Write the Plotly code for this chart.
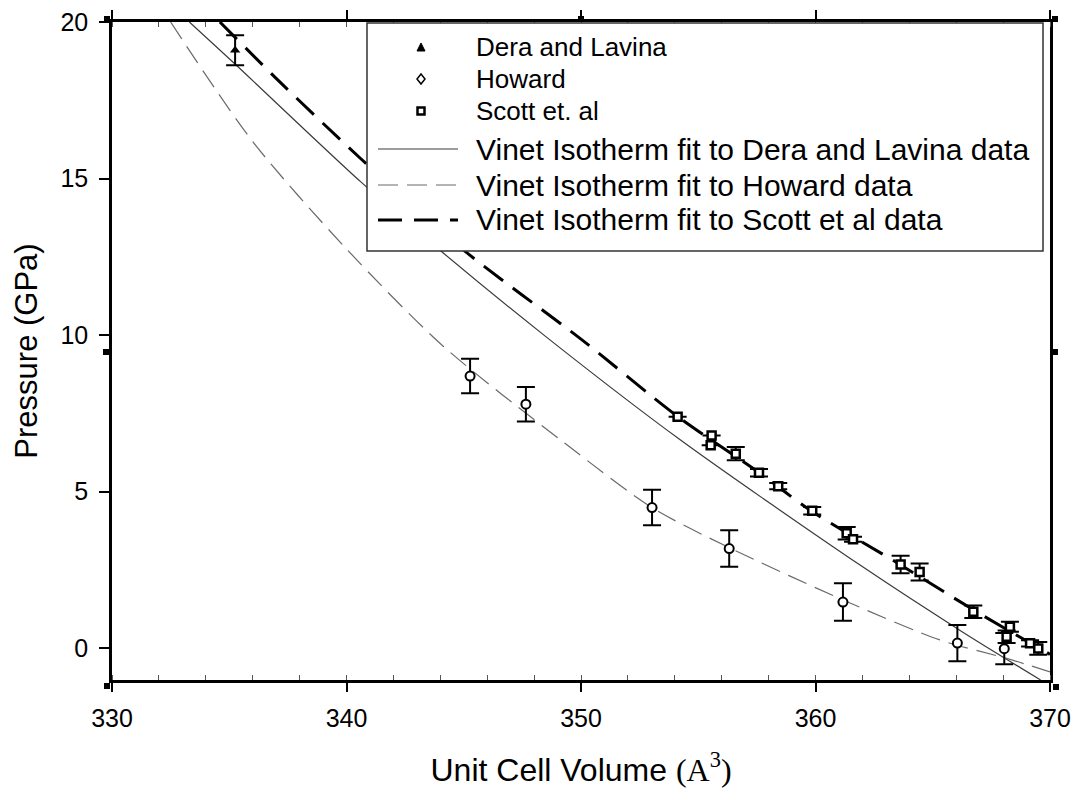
import plotly.graph_objects as go

# ---- measured data -------------------------------------------------------
dera_v = [335.25]
dera_p = [19.10]
dera_err = [0.48]

howard_v = [345.27, 347.65, 353.03, 356.32, 361.17, 366.05, 368.05]
howard_p = [8.69, 7.79, 4.49, 3.18, 1.47, 0.16, -0.02]
howard_err = [0.55, 0.55, 0.57, 0.58, 0.60, 0.58, 0.50]

scott_v = [354.12, 355.57, 355.53, 356.60, 357.59, 358.41, 359.86, 361.33,
           361.60, 363.63, 364.44, 366.73, 368.29, 368.15, 369.15, 369.50]
scott_p = [7.39, 6.79, 6.48, 6.21, 5.60, 5.17, 4.39, 3.67,
           3.48, 2.67, 2.43, 1.16, 0.68, 0.36, 0.15, -0.01]
scott_err = [0.0, 0.0, 0.0, 0.21, 0.12, 0.10, 0.12, 0.20,
             0.08, 0.28, 0.27, 0.20, 0.16, 0.20, 0.10, 0.20]

# Vinet isotherm fit curves
fit_dera_v = [333.3, 335.2, 340.6, 344.0, 348.5, 354.2, 361.9, 366.3, 369.6]
fit_dera_p = [20.0, 18.69, 14.90, 12.70, 9.95, 6.67, 2.65, 0.50, -1.02]

fit_howard_v = [332.5, 336.0, 340.0, 344.1, 349.3, 353.0, 356.2, 361.5, 365.3, 368.15, 370.0]
fit_howard_p = [20.0, 16.18, 12.75, 9.66, 6.55, 4.50, 3.25, 1.43, 0.26, -0.33, -0.76]

fit_scott_v = [334.6, 337.0, 340.6, 345.1, 350.0, 354.1, 357.6, 359.8, 363.6, 366.8, 370.0]
fit_scott_p = [20.0, 18.2, 15.64, 12.65, 9.87, 7.41, 5.60, 4.39, 2.67, 1.19, -0.20]

x_range = [330, 370]
y_range = [-1.02, 20]

legend_labels = ["Dera and Lavina", "Howard", "Scott et. al",
                 "Vinet Isotherm fit to Dera and Lavina data",
                 "Vinet Isotherm fit to Howard data",
                 "Vinet Isotherm fit to Scott et al data"]

FONT = "Liberation Sans, Arial, sans-serif"

# ---- styles ---------------------------------------------------------------
solid_style = dict(color="#3a3a3a", width=1.2)
howard_style = dict(color="#6a6a6a", width=1.2, dash="20px,9px")
scott_style = dict(color="black", width=3, dash="24px,12px")

fig = go.Figure()

fig.add_trace(go.Scatter(x=fit_dera_v, y=fit_dera_p, mode="lines",
                         line=dict(shape="spline", smoothing=0.8, **solid_style),
                         showlegend=False, hoverinfo="skip"))
fig.add_trace(go.Scatter(x=fit_howard_v, y=fit_howard_p, mode="lines",
                         line=dict(shape="spline", smoothing=0.8, **howard_style),
                         showlegend=False, hoverinfo="skip"))
fig.add_trace(go.Scatter(x=fit_scott_v, y=fit_scott_p, mode="lines",
                         line=dict(shape="spline", smoothing=0.8, **scott_style),
                         showlegend=False, hoverinfo="skip"))

err_common = dict(type="data", color="black", thickness=2, width=9)

fig.add_trace(go.Scatter(x=howard_v, y=howard_p, mode="markers",
                         marker=dict(symbol="circle", size=9, color="white",
                                     line=dict(color="black", width=2)),
                         error_y=dict(array=howard_err, **err_common),
                         showlegend=False))
fig.add_trace(go.Scatter(x=scott_v, y=scott_p, mode="markers",
                         marker=dict(symbol="square", size=8, color="white",
                                     line=dict(color="black", width=2.5)),
                         error_y=dict(array=scott_err, **err_common),
                         showlegend=False))
fig.add_trace(go.Scatter(x=dera_v, y=dera_p, mode="markers",
                         marker=dict(symbol="triangle-up", size=9, color="black"),
                         error_y=dict(array=dera_err, **err_common),
                         showlegend=False))

# ---- plot area geometry (pixels) -----------------------------------------
W, H = 1078, 791
L, R, T, B = 112, 1050, 22, 680
pw, ph = R - L, B - T


def px(xpix):
    return (xpix - L) / pw


def py(ypix):
    return (B - ypix) / ph


shapes = []
annotations = []

# legend box
shapes.append(dict(type="rect", xref="paper", yref="paper",
                   x0=px(367), x1=px(1043), y0=py(251), y1=py(23),
                   line=dict(color="#333333", width=1.5), fillcolor="white",
                   layer="above"))

rows = [47, 79, 111, 149, 185, 220]
sym_x = 421
for i, lab in enumerate(legend_labels):
    size = 26 if i < 3 else 30
    annotations.append(dict(xref="paper", yref="paper", x=px(474), y=py(rows[i]),
                            xanchor="left", yanchor="middle", showarrow=False,
                            text=lab, font=dict(family=FONT, size=size, color="black")))

# legend symbols
s = 4
shapes.append(dict(type="path", xref="paper", yref="paper",
                   path="M {} {} L {} {} L {} {} Z".format(
                       px(sym_x - s), py(rows[0] + s), px(sym_x + s), py(rows[0] + s),
                       px(sym_x), py(rows[0] - s)),
                   fillcolor="black", line=dict(color="black", width=1), layer="above"))
shapes.append(dict(type="path", xref="paper", yref="paper",
                   path="M {} {} L {} {} L {} {} L {} {} Z".format(
                       px(sym_x), py(rows[1] - 5), px(sym_x + 4), py(rows[1]),
                       px(sym_x), py(rows[1] + 5), px(sym_x - 4), py(rows[1])),
                   fillcolor="white", line=dict(color="black", width=1.5), layer="above"))
shapes.append(dict(type="rect", xref="paper", yref="paper",
                   x0=px(sym_x - 3.5), x1=px(sym_x + 3.5),
                   y0=py(rows[2] + 3.5), y1=py(rows[2] - 3.5),
                   fillcolor="white", line=dict(color="black", width=2.5), layer="above"))

# legend line samples
for row, st in zip(rows[3:], [solid_style, howard_style, scott_style]):
    shapes.append(dict(type="line", xref="paper", yref="paper",
                       x0=px(378), x1=px(458), y0=py(row), y1=py(row),
                       line=st, layer="above"))

# small selection handles around the frame
for hx, hy in [(107, 19), (581, 19), (1055, 19), (106, 352), (1055, 352),
               (107, 686), (1056, 687)]:
    shapes.append(dict(type="rect", xref="paper", yref="paper",
                       x0=px(hx - 3), x1=px(hx + 3), y0=py(hy + 3), y1=py(hy - 3),
                       fillcolor="black", line=dict(width=0), layer="above"))

fig.update_layout(
    width=W, height=H,
    margin=dict(l=L, r=W - R, t=T, b=H - B),
    paper_bgcolor="white", plot_bgcolor="white",
    font=dict(family=FONT, color="black"),
    shapes=shapes, annotations=annotations,
    showlegend=False,
)

fig.update_xaxes(
    range=x_range, dtick=10, tick0=330, automargin=False,
    showgrid=False, zeroline=False,
    showline=True, linecolor="black", linewidth=2.5, mirror="ticks",
    ticks="outside", ticklen=9, tickwidth=1.5, tickcolor="black",
    minor=dict(dtick=2, ticks="inside", ticklen=5, tickwidth=1, tickcolor="#555555"),
    tickfont=dict(family=FONT, size=25, color="black"),
    ticklabelstandoff=5,
    title=dict(text="Unit Cell Volume <span style='font-family:Liberation Serif'>(A<sup>3</sup>)</span>",
               font=dict(family=FONT, size=32, color="black"), standoff=28),
)

fig.update_yaxes(
    range=y_range, dtick=5, tick0=0, automargin=False,
    showgrid=False, zeroline=False,
    showline=True, linecolor="black", linewidth=2.5, mirror=True,
    ticks="outside", ticklen=10, tickwidth=1.5, tickcolor="black",
    tickfont=dict(family=FONT, size=25, color="black"),
    ticklabelstandoff=6,
    title=dict(text="Pressure (GPa)", font=dict(family=FONT, size=31, color="black"),
               standoff=14),
)

fig.write_html("out.html")
